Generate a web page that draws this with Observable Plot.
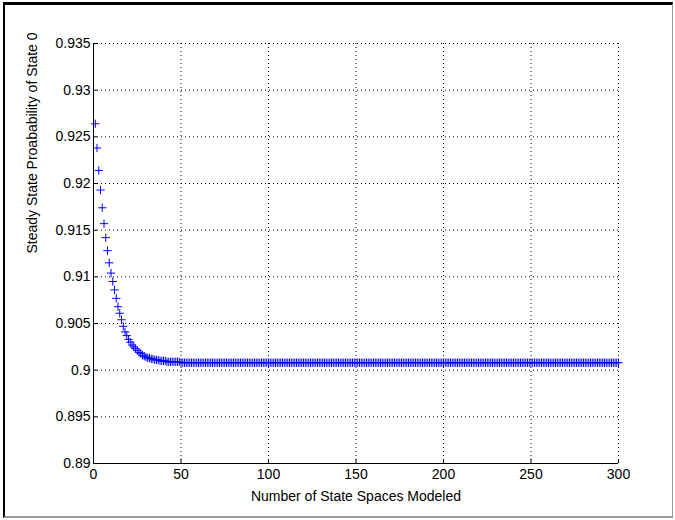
<!DOCTYPE html>
<html>
<head>
<meta charset="utf-8">
<script src="https://cdn.jsdelivr.net/npm/d3@7"></script>
<script src="https://cdn.jsdelivr.net/npm/@observablehq/plot@0.6"></script>
<style>
  html, body { margin: 0; padding: 0; background: #fff; }
  #wrap { position: relative; width: 675px; height: 520px; }
  #border { position: absolute; left: 3px; top: 2px; width: 670px; height: 516px;
    border-top: 3px solid #000; border-left: 2px solid #000;
    border-right: 1px solid #999; border-bottom: 2px solid #999;
    box-sizing: border-box; pointer-events: none; }
</style>
</head>
<body>
<div id="wrap"><div id="border"></div></div>
<script>
// Steady-state probability of state 0 for 1..300 modeled state spaces
const prob = [
  0.9264,0.9238,0.9214,0.9193,0.9174,0.9157,0.9142,0.9128,0.9115,0.9104,
  0.9095,0.9086,0.9077,0.9068,0.9061,0.9054,0.9047,0.9041,0.9037,0.9033,
  0.9030,0.9027,0.9025,0.9023,0.9021,0.9019,0.9018,0.9016,0.9015,0.9014,
  0.9013,0.9013,0.9012,0.9012,0.9011,0.9011,0.9011,0.9010,0.9010,0.9010,
  0.9010,0.9009,0.9009,0.9009,0.9009,0.9009,0.9009,0.9009,0.9009,
  0.9008,0.9008,0.9008,0.9008,0.9008,0.9008,0.9008,0.9008,0.9008,0.9008,
  0.9008,0.9008,0.9008,0.9008,0.9008,0.9008,0.9008,0.9008,0.9008,0.9008,
  0.9008,0.9008,0.9008,0.9008,0.9008,0.9008,0.9008,0.9008,0.9008,0.9008,
  0.9008,0.9008,0.9008,0.9008,0.9008,0.9008,0.9008,0.9008,0.9008,0.9008,
  0.9008,0.9008,0.9008,0.9008,0.9008,0.9008,0.9008,0.9008,0.9008,0.9008,
  0.9008,0.9008,0.9008,0.9008,0.9008,0.9008,0.9008,0.9008,0.9008,0.9008,
  0.9008,0.9008,0.9008,0.9008,0.9008,0.9008,0.9008,0.9008,0.9008,0.9008,
  0.9008,0.9008,0.9008,0.9008,0.9008,0.9008,0.9008,0.9008,0.9008,0.9008,
  0.9008,0.9008,0.9008,0.9008,0.9008,0.9008,0.9008,0.9008,0.9008,0.9008,
  0.9008,0.9008,0.9008,0.9008,0.9008,0.9008,0.9008,0.9008,0.9008,0.9008,
  0.9008,0.9008,0.9008,0.9008,0.9008,0.9008,0.9008,0.9008,0.9008,0.9008,
  0.9008,0.9008,0.9008,0.9008,0.9008,0.9008,0.9008,0.9008,0.9008,0.9008,
  0.9008,0.9008,0.9008,0.9008,0.9008,0.9008,0.9008,0.9008,0.9008,0.9008,
  0.9008,0.9008,0.9008,0.9008,0.9008,0.9008,0.9008,0.9008,0.9008,0.9008,
  0.9008,0.9008,0.9008,0.9008,0.9008,0.9008,0.9008,0.9008,0.9008,0.9008,
  0.9008,0.9008,0.9008,0.9008,0.9008,0.9008,0.9008,0.9008,0.9008,0.9008,
  0.9008,0.9008,0.9008,0.9008,0.9008,0.9008,0.9008,0.9008,0.9008,0.9008,
  0.9008,0.9008,0.9008,0.9008,0.9008,0.9008,0.9008,0.9008,0.9008,0.9008,
  0.9008,0.9008,0.9008,0.9008,0.9008,0.9008,0.9008,0.9008,0.9008,0.9008,
  0.9008,0.9008,0.9008,0.9008,0.9008,0.9008,0.9008,0.9008,0.9008,0.9008,
  0.9008,0.9008,0.9008,0.9008,0.9008,0.9008,0.9008,0.9008,0.9008,0.9008,
  0.9008,0.9008,0.9008,0.9008,0.9008,0.9008,0.9008,0.9008,0.9008,0.9008,
  0.9008,0.9008,0.9008,0.9008,0.9008,0.9008,0.9008,0.9008,0.9008,0.9008,
  0.9008,0.9008,0.9008,0.9008,0.9008,0.9008,0.9008,0.9008,0.9008,0.9008,
  0.9008,0.9008,0.9008,0.9008,0.9008,0.9008,0.9008,0.9008,0.9008,0.9008,
  0.9008
];

const xTicks = [0, 50, 100, 150, 200, 250, 300];
const xTickLabels = ["0", "50", "100", "150", "200", "250", "300"];
const yTicks = [0.89, 0.895, 0.9, 0.905, 0.91, 0.915, 0.92, 0.925, 0.93, 0.935];
const yTickLabels = ["0.89", "0.895", "0.9", "0.905", "0.91", "0.915", "0.92", "0.925", "0.93", "0.935"];
const xTitle = "Number of State Spaces Modeled";
const yTitle = "Steady State Proabability of State 0";

const data = prob.map((p, i) => ({ n: i + 1, p }));
const xFmt = new Map(xTicks.map((t, i) => [t, xTickLabels[i]]));
const yFmt = new Map(yTicks.map((t, i) => [t, yTickLabels[i]]));

const chart = Plot.plot({
  width: 675,
  height: 520,
  marginLeft: 93,
  marginRight: 57,
  marginTop: 43,
  marginBottom: 57,
  style: { fontFamily: "'Liberation Sans', Arial, sans-serif", fontSize: "14px", background: "transparent", color: "#000" },
  x: { domain: [0, 300] },
  y: { domain: [0.89, 0.935] },
  marks: [
    Plot.gridX(xTicks.slice(1), { stroke: "#000", strokeOpacity: 1, strokeDasharray: "1,3" }),
    Plot.gridY(yTicks.slice(1), { stroke: "#000", strokeOpacity: 1, strokeDasharray: "1,3" }),
    Plot.ruleX([0], { stroke: "#000" }),
    Plot.ruleY([0.89], { stroke: "#000" }),
    Plot.axisX(xTicks, { tickSize: -4, tickPadding: 10, tickFormat: d => xFmt.get(d), label: null }),
    Plot.axisY(yTicks, { tickSize: -4, tickPadding: 7, tickFormat: d => yFmt.get(d), label: null }),
    Plot.dot(data, { x: "n", y: "p", symbol: "plus", stroke: "#0000ff", r: 2.8, strokeWidth: 1 }),
    Plot.text([xTitle], { frameAnchor: "bottom", dy: 37, text: d => d }),
    Plot.text([yTitle], { frameAnchor: "left", dx: -61, rotate: -90, text: d => d })
  ]
});
document.getElementById("wrap").prepend(chart);
</script>
</body>
</html>
